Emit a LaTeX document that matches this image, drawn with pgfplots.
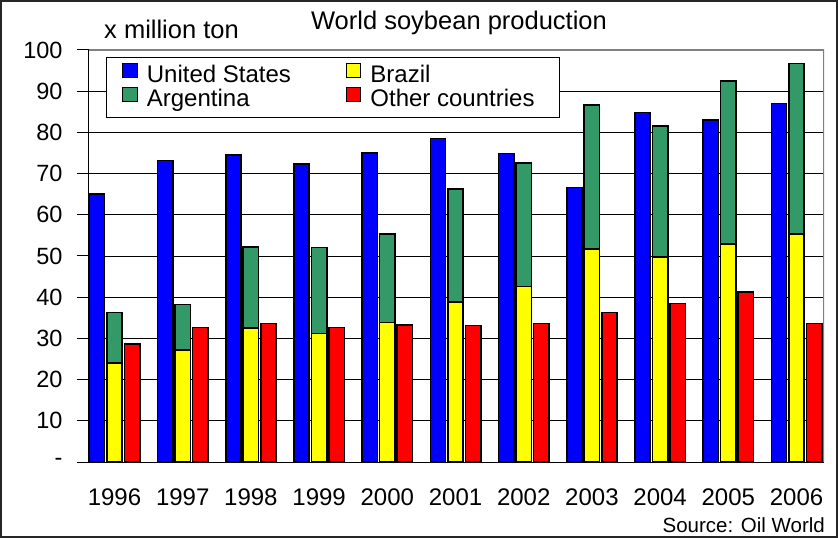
\documentclass[border=0pt]{standalone}
\usepackage{pgfplots}
\pgfplotsset{compat=1.18}
\usepackage{pgfplotstable}
\usepackage{fontspec}
\setmainfont{Liberation Sans}

\definecolor{usblue}{RGB}{0,0,255}
\definecolor{bryellow}{RGB}{255,255,0}
\definecolor{argreen}{RGB}{51,153,102}
\definecolor{othred}{RGB}{255,0,0}

% million ton; ar = Argentina, stacked on top of Brazil
\pgfplotstableread{
idx us   br   ar   oth
0   65.0 24.0 12.3 28.6
1   73.2 27.2 11.0 32.6
2   74.5 32.5 19.7 33.6
3   72.3 31.2 20.9 32.6
4   75.0 33.9 21.4 33.2
5   78.5 38.9 27.3 33.1
6   74.9 42.6 29.9 33.6
7   66.6 51.7 34.9 36.3
8   84.8 49.8 31.8 38.5
9   83.0 52.9 39.6 41.3
10  87.0 55.3 41.4 33.6
}\soy

\begin{document}
\begin{tikzpicture}
\useasboundingbox (-89pt,-76pt) rectangle (749pt,462pt);
\begin{axis}[
    at={(0pt,0pt)}, anchor=south west,
    width=735pt, height=412pt, scale only axis,
    xmin=-0.374, xmax=10.403,
    ymin=0, ymax=100,
    axis x line*=bottom, axis y line*=left,
    axis line style={black, line width=1pt},
    xtick={0,1,2,3,4,5,6,7,8,9,10},
    xticklabels={1996,1997,1998,1999,2000,2001,2002,2003,2004,2005,2006},
    xtick style={draw=none},
    xticklabel style={font=\fontsize{24}{24}\selectfont, anchor=base, yshift=-31pt},
    ytick={0,10,20,30,40,50,60,70,80,90,100},
    yticklabels={-,10,20,30,40,50,60,70,80,90,100},
    yticklabel style={font=\fontsize{23.5}{23.5}\selectfont, anchor=east, xshift=-11pt},
    /pgf/number format/assume math mode=true,
    tick align=outside, major tick length=12pt,
    ytick style={black, line width=1pt},
    ymajorgrids, grid style={black, line width=0.8pt},
    ybar, bar width=0.225,
    legend columns=2,
    legend cell align=left,
    legend image code/.code={\draw[#1, line width=1pt] (0pt,-1.5pt) rectangle (14.5pt,12.5pt);},
    legend style={at={(0.0231,0.983)}, anchor=north west,
        draw=black, line width=0.8pt,
        font=\fontsize{24}{24}\selectfont,
        inner xsep=16pt, inner ysep=6pt,
        nodes={inner xsep=9pt, inner ysep=0pt, text height=17pt, text depth=5pt},
        /tikz/every even column/.append style={column sep=46pt}},
]
\addlegendimage{fill=usblue, draw=black}
\addlegendentry{United States}
\addlegendimage{fill=bryellow, draw=black}
\addlegendentry{Brazil}
\addlegendimage{fill=argreen, draw=black}
\addlegendentry{Argentina}
\addlegendimage{fill=othred, draw=black}
\addlegendentry{Other countries}

\addplot[fill=usblue, draw=black, line width=1.6pt, bar shift=-0.257, forget plot] table[x=idx, y=us] {\soy};
\addplot[fill=argreen, draw=black, line width=1.6pt, bar shift=0, forget plot] table[x=idx, y expr=\thisrow{br}+\thisrow{ar}] {\soy};
\addplot[fill=bryellow, draw=black, line width=1.6pt, bar shift=0, forget plot] table[x=idx, y=br] {\soy};
\addplot[fill=othred, draw=black, line width=1.6pt, bar shift=0.257, forget plot] table[x=idx, y=oth] {\soy};

\draw[gray, line width=1.2pt] (rel axis cs:0,1) -- (rel axis cs:1,1) -- (rel axis cs:1,0);
\end{axis}
\node[anchor=base, font=\fontsize{25.5}{25.5}\selectfont] at (370pt,432pt) {World soybean production};
\node[anchor=base west, inner sep=0pt, font=\fontsize{25.5}{25.5}\selectfont] at (15pt,423pt) {x million ton};
\node[anchor=base east, inner sep=0pt, font=\fontsize{20.5}{20.5}\selectfont] at (736pt,-70pt) {Source: Oil World};
\draw[black!85, line width=1.5pt] (-88pt,-75pt) rectangle (748pt,461pt);
\end{tikzpicture}
\end{document}
